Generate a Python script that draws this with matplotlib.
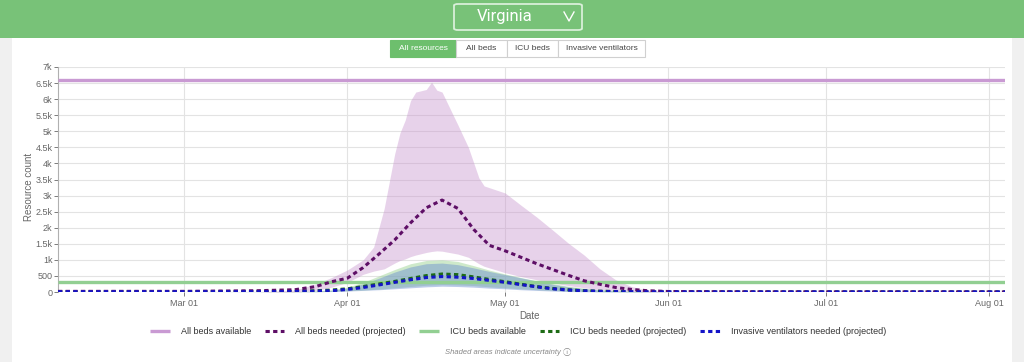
import matplotlib
matplotlib.use('Agg')
import matplotlib.pyplot as plt
import matplotlib.dates as mdates
from matplotlib.patches import Rectangle, FancyBboxPatch
from matplotlib.ticker import FuncFormatter
import numpy as np

plt.rcParams['font.family'] = ['Liberation Sans', 'DejaVu Sans']

# ---- data (Virginia) ----
dates = np.array(['2020-02-06', '2020-03-01', '2020-03-15', '2020-03-22', '2020-03-26',
                  '2020-03-29', '2020-04-01', '2020-04-04', '2020-04-07', '2020-04-10',
                  '2020-04-13', '2020-04-16', '2020-04-19', '2020-04-22', '2020-04-25',
                  '2020-04-28', '2020-05-01', '2020-05-04', '2020-05-07', '2020-05-10',
                  '2020-05-13', '2020-05-16', '2020-05-19', '2020-05-22', '2020-05-25',
                  '2020-05-28', '2020-06-01', '2020-06-15', '2020-07-01', '2020-08-04'],
                 dtype='datetime64[D]')
all_beds_needed = [20, 20, 40, 70, 170, 320, 430, 760, 1180, 1620, 2150, 2620, 2860, 2600,
                   1950, 1450, 1280, 1080, 880, 700, 520, 350, 240, 140, 80, 40, 15, 5, 3, 2]
icu_needed = [10, 10, 15, 25, 40, 60, 100, 170, 250, 330, 420, 510, 560, 540, 470, 390,
              320, 240, 170, 110, 70, 40, 25, 15, 10, 6, 4, 2, 2, 2]
vent_needed = [8, 8, 10, 15, 25, 40, 80, 140, 220, 300, 380, 450, 480, 460, 420, 360,
               300, 230, 160, 100, 60, 35, 20, 12, 8, 5, 3, 2, 2, 2]
icu_hi = [0, 0, 5, 15, 35, 70, 150, 300, 500, 700, 880, 980, 1000, 950, 820, 680, 560,
          450, 350, 260, 180, 120, 70, 40, 20, 10, 5, 0, 0, 0]
icu_lo = [0, 0, 0, 5, 10, 20, 40, 60, 90, 130, 170, 210, 230, 220, 200, 160, 130, 100,
          70, 50, 30, 20, 10, 5, 0, 0, 0, 0, 0, 0]
vent_hi = [0, 0, 5, 10, 25, 50, 120, 250, 430, 620, 780, 880, 900, 850, 750, 640, 540,
           440, 340, 240, 160, 100, 60, 35, 20, 10, 5, 0, 0, 0]
vent_lo = [0, 0, 0, 5, 8, 15, 30, 50, 70, 100, 130, 160, 180, 170, 150, 120, 100, 70,
           50, 30, 15, 8, 4, 2, 0, 0, 0, 0, 0, 0]

band_dates = np.array(['2020-02-06', '2020-03-15', '2020-03-22', '2020-03-26', '2020-03-29',
                       '2020-04-01', '2020-04-04', '2020-04-06', '2020-04-08', '2020-04-10',
                       '2020-04-11', '2020-04-12', '2020-04-13', '2020-04-14', '2020-04-16',
                       '2020-04-17', '2020-04-18', '2020-04-19', '2020-04-20', '2020-04-22',
                       '2020-04-24', '2020-04-26', '2020-04-27', '2020-05-01', '2020-05-04',
                       '2020-05-07', '2020-05-10', '2020-05-13', '2020-05-16', '2020-05-19',
                       '2020-05-22', '2020-05-25', '2020-05-28', '2020-06-01', '2020-08-04'],
                      dtype='datetime64[D]')
beds_hi = [0, 0, 60, 250, 450, 685, 1000, 1400, 2600, 4300, 4950, 5350, 5950, 6220, 6300,
           6530, 6280, 6220, 5880, 5200, 4500, 3550, 3300, 3080, 2700, 2330, 1930, 1520,
           1150, 720, 380, 170, 60, 0, 0]
beds_lo = [0, 0, 0, 50, 150, 300, 550, 650, 720, 900, 980, 1030, 1100, 1150, 1230, 1260,
           1280, 1270, 1240, 1180, 1080, 880, 800, 600, 480, 380, 280, 200, 130, 70, 40,
           20, 5, 0, 0]

all_beds_available = 6600
icu_beds_available = 320

y_ticks = np.arange(0, 7001, 500)
x_ticks = np.array(['2020-03-01', '2020-04-01', '2020-05-01', '2020-06-01',
                    '2020-07-01', '2020-08-01'], dtype='datetime64[D]')
x_range = np.array(['2020-02-06', '2020-08-04'], dtype='datetime64[D]')

# ---- page ----
W, H = 1024, 362
fig = plt.figure(figsize=(W / 100, H / 100), dpi=100, facecolor='#f0f0f0')

def fx(px):
    return px / W

def fy(py):
    return 1 - py / H

fig.patches.append(Rectangle((fx(12), 0), fx(1000), 1 - 38 / H, transform=fig.transFigure,
                             facecolor='white', edgecolor='none', zorder=-2))
fig.patches.append(Rectangle((0, fy(38)), 1, 38 / H, transform=fig.transFigure,
                             facecolor='#78c278', edgecolor='none', zorder=-2))
# state dropdown
fig.patches.append(FancyBboxPatch((fx(454), fy(30)), fx(128), 26 / H,
                                  boxstyle='round,pad=0,rounding_size=0.004',
                                  transform=fig.transFigure, facecolor='#78c278',
                                  edgecolor='#d9efd9', lw=1.3, zorder=-1))
fig.text(fx(505), fy(17), 'Virginia', color='white', fontsize=12,
         ha='center', va='center', family='Roboto')
fig.lines.append(plt.Line2D([fx(564), fx(569), fx(574)], [fy(12), fy(21), fy(12)],
                            transform=fig.transFigure, color='white', lw=1.0))

# tab buttons
buttons = [('All resources', 390, 456), ('All beds', 456, 507),
           ('ICU beds', 507, 558), ('Invasive ventilators', 558, 645)]
for i, (label, x0, x1) in enumerate(buttons):
    active = i == 0
    fig.patches.append(Rectangle((fx(x0), fy(57)), fx(x1 - x0), 17 / H,
                                 transform=fig.transFigure,
                                 facecolor='#6dbf6d' if active else 'white',
                                 edgecolor='#6dbf6d' if active else '#d0d0d0',
                                 lw=0.8, zorder=-1))
    fig.text(fx((x0 + x1) / 2), fy(48.5), label, fontsize=6,
             color='white' if active else '#444444', ha='center', va='center')

# ---- chart ----
ax = fig.add_axes([fx(58), fy(292), fx(1005 - 58), (292 - 67) / H])
ax.set_zorder(3)
ax.set_facecolor('none')

ax.fill_between(band_dates, beds_lo, beds_hi, color='#c590cc', alpha=0.4, lw=0, zorder=1)
ax.fill_between(dates, icu_lo, icu_hi, color='#a6d8a0', alpha=0.55, lw=0, zorder=2)
ax.fill_between(dates, vent_lo, vent_hi, color='#6a8cd0', alpha=0.45, lw=0, zorder=3)

ax.plot(x_range, [all_beds_available] * 2, color='#c99ad3', lw=2.4, zorder=4,
        solid_capstyle='butt', label='All beds available')
ax.plot(dates, all_beds_needed, color='#5e0f66', lw=2.2, ls=(0, (1.4, 1.1)), zorder=6,
        label='All beds needed (projected)')
ax.plot(x_range, [icu_beds_available] * 2, color='#92cf92', lw=2.4, zorder=4,
        solid_capstyle='butt', label='ICU beds available')
ax.plot(dates, icu_needed, color='#1d6b14', lw=2.2, ls=(0, (1.4, 1.1)), zorder=5,
        label='ICU beds needed (projected)')
ax.plot(dates, vent_needed, color='#1414c8', lw=2.2, ls=(0, (1.4, 1.1)), zorder=6,
        label='Invasive ventilators needed (projected)')

ax.set_xlim(x_range[0], x_range[1])
ax.set_ylim(0, 7000)
ax.set_xticks(x_ticks)
ax.xaxis.set_major_formatter(mdates.DateFormatter('%b %d'))
ax.set_yticks(y_ticks)
ax.yaxis.set_major_formatter(FuncFormatter(
    lambda v, p: '0' if v == 0 else ('%d' % v if v < 1000 else '%gk' % (v / 1000))))
ax.grid(True, color='#e3e3e3', lw=0.8, zorder=0)
ax.set_axisbelow(True)
for s in ['top', 'right', 'bottom']:
    ax.spines[s].set_visible(False)
ax.spines['left'].set_color('#b0b0b0')
ax.spines['left'].set_linewidth(0.8)
ax.tick_params(axis='both', labelsize=6.5, colors='#666666', length=3, width=0.6)
ax.tick_params(axis='x', pad=2)
ax.tick_params(axis='y', pad=1)

fig.text(fx(530), fy(316), 'Date', fontsize=7, color='#666666', ha='center', va='center')
fig.text(fx(29), fy(187), 'Resource count', fontsize=7, color='#666666',
         ha='center', va='center', rotation=90)

leg = ax.legend(loc='center', bbox_to_anchor=(fx(518), fy(332)),
                bbox_transform=fig.transFigure, ncol=5, frameon=False, fontsize=6.5,
                handlelength=2.2, handletextpad=1.2, columnspacing=1.5)
for t in leg.get_texts():
    t.set_color('#333333')

fig.text(fx(561), fy(352), 'Shaded areas indicate uncertainty', fontsize=5.5,
         color='#888888', style='italic', ha='right', va='center')
fig.text(fx(563), fy(352), '\u24d8', fontsize=6, color='#888888', ha='left', va='center',
         family=['DejaVu Sans', 'Noto Sans CJK SC'])

fig.savefig('out.png', dpi=100, facecolor=fig.get_facecolor())
